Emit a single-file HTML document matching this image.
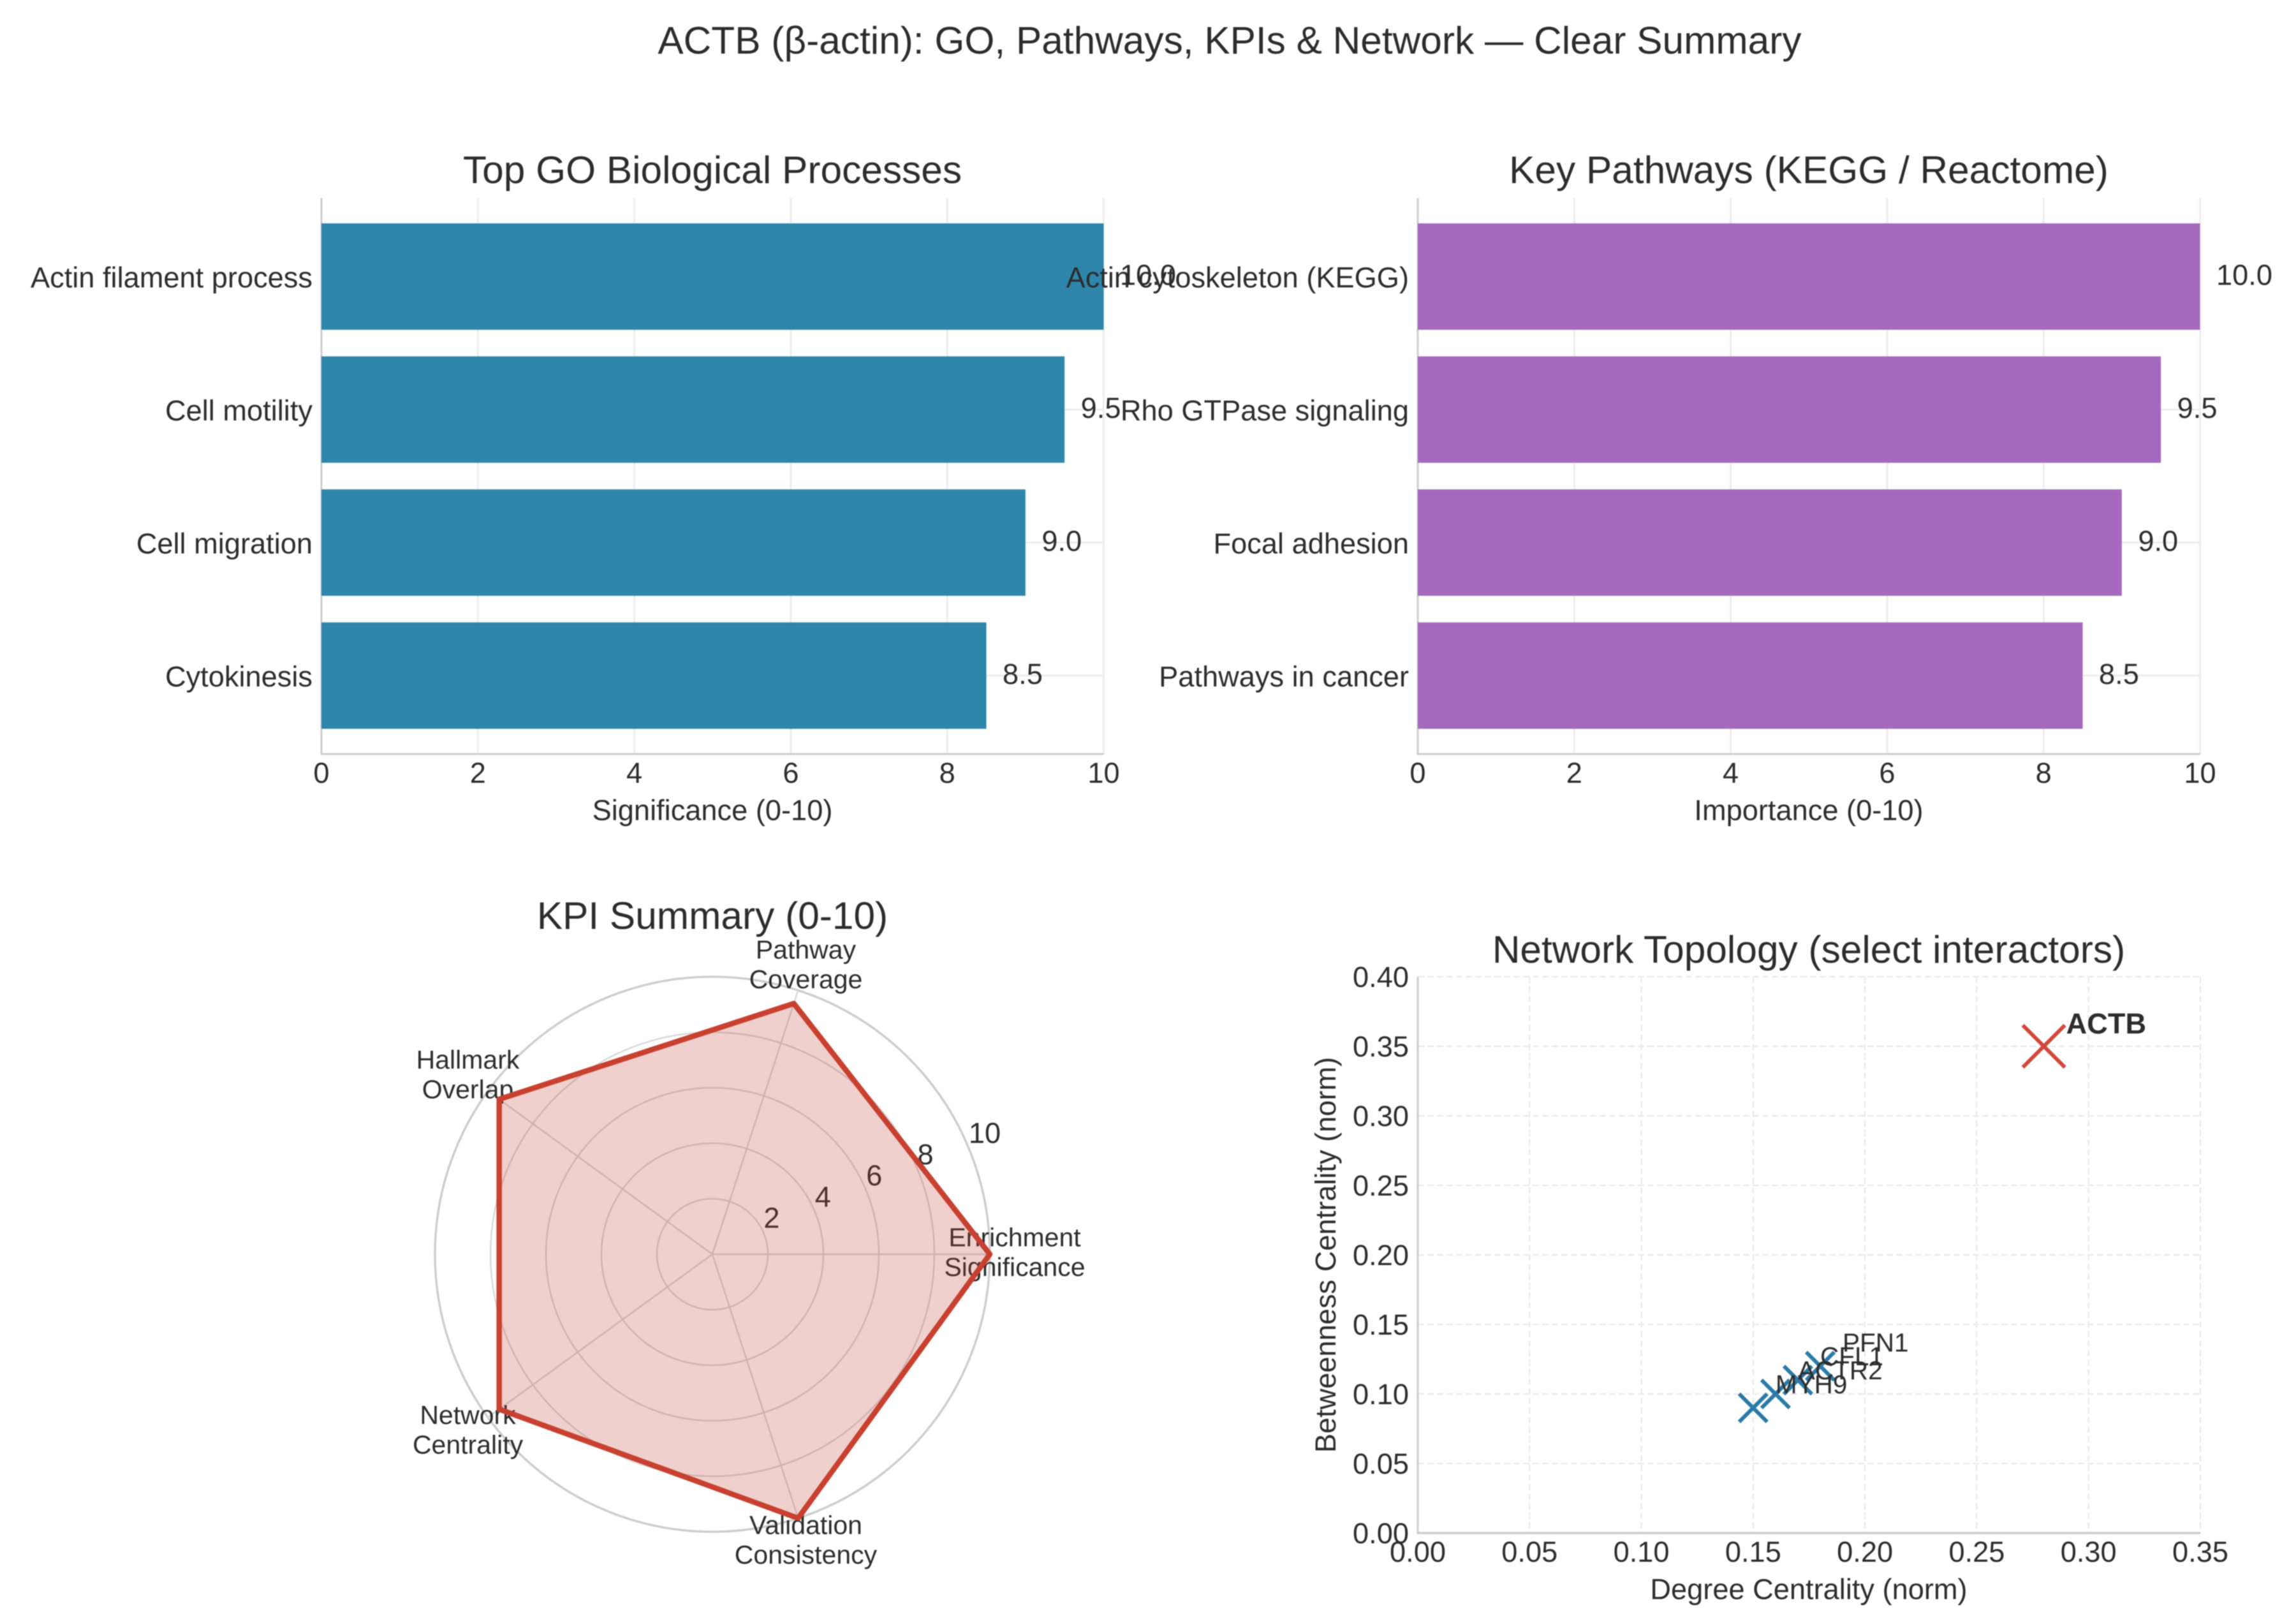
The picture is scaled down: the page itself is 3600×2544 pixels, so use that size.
<!DOCTYPE html>
<html lang="en">
<head>
<meta charset="utf-8">
<title>ACTB (β-actin): GO, Pathways, KPIs &amp; Network — Clear Summary</title>
<style>
  html, body { margin: 0; padding: 0; background: #ffffff; }
  body { width: 3600px; height: 2544px; overflow: hidden; }
  svg { display: block; filter: blur(0.9px); }
  text { font-family: "Liberation Sans", Arial, sans-serif; fill: #2c2c2c; }
</style>
</head>
<body>
<svg id="chart" xmlns="http://www.w3.org/2000/svg" width="3600" height="2544" viewBox="0 0 3600 2544">
  <rect x="0" y="0" width="3600" height="2544" fill="#ffffff"/>
  <text x="1928" y="84" font-size="60.4" text-anchor="middle">ACTB (β-actin): GO, Pathways, KPIs &amp; Network — Clear Summary</text>

  <g id="go-panel"></g>
  <g id="pathway-panel"></g>
  <g id="kpi-panel"></g>
  <g id="network-panel"></g>

  <text x="1117" y="287" font-size="60.4" text-anchor="middle">Top GO Biological Processes</text>
  <text x="1117" y="1285.5" font-size="45.2" text-anchor="middle">Significance (0-10)</text>
  <text x="2836" y="287" font-size="60.4" text-anchor="middle">Key Pathways (KEGG / Reactome)</text>
  <text x="2836" y="1285.5" font-size="45.2" text-anchor="middle">Importance (0-10)</text>
  <text x="1117" y="1456" font-size="60.4" text-anchor="middle">KPI Summary (0-10)</text>
  <text x="2836" y="1509" font-size="60.4" text-anchor="middle">Network Topology (select interactors)</text>
  <text x="2836" y="2506.5" font-size="45.2" text-anchor="middle">Degree Centrality (norm)</text>
  <text x="2094" y="1967" font-size="45.2" text-anchor="middle" transform="rotate(-90 2094 1967)">Betweenness Centrality (norm)</text>
</svg>

<script>
// ---- chart data ----
const goCategories = ['Actin filament process', 'Cell motility', 'Cell migration', 'Cytokinesis'];
const goValues = [10.0, 9.5, 9.0, 8.5];
const pathwayCategories = ['Actin cytoskeleton (KEGG)', 'Rho GTPase signaling', 'Focal adhesion', 'Pathways in cancer'];
const pathwayValues = [10.0, 9.5, 9.0, 8.5];
const barTickLabels = [0, 2, 4, 6, 8, 10];

const kpiLabels = [['Enrichment', 'Significance'], ['Pathway', 'Coverage'], ['Hallmark', 'Overlap'], ['Network', 'Centrality'], ['Validation', 'Consistency']];
const kpiValues = [10, 9.5, 9.5, 9.5, 10];
const kpiRadialTicks = [2, 4, 6, 8, 10];

const networkNames = ['PFN1', 'CFL1', 'ACTR2', 'MYH9'];
const networkDegree = [0.18, 0.17, 0.16, 0.15];
const networkBetweenness = [0.12, 0.11, 0.10, 0.09];
const hubNames = ['ACTB'];
const hubDegree = [0.28];
const hubBetweenness = [0.35];
const networkXTicks = [0, 0.05, 0.10, 0.15, 0.20, 0.25, 0.30, 0.35];
const networkYTicks = [0, 0.05, 0.10, 0.15, 0.20, 0.25, 0.30, 0.35, 0.40];

// ---- helpers ----
const NS = 'http://www.w3.org/2000/svg';
function make(parent, tag, attrs, content) {
  const el = document.createElementNS(NS, tag);
  for (const k in attrs) el.setAttribute(k, attrs[k]);
  if (content !== undefined) el.textContent = content;
  parent.appendChild(el);
  return el;
}
const GRID = '#ededed';
const SPINE = '#cccccc';

// ---- horizontal bar panels ----
function drawBarPanel(panelId, prefix, left, color, categories, values) {
  const panel = document.getElementById(panelId);
  const width = 1226.5, top = 310.5, bottom = 1182;
  const xMax = 10;
  const x = v => left + v / xMax * width;
  const band = (bottom - top) / (categories.length + 0.18);
  const y = i => top + (i + 0.59) * band;

  barTickLabels.forEach(t => {
    const line = make(panel, 'line', { x1: x(t), x2: x(t), y1: top, y2: bottom, stroke: GRID, 'stroke-width': 3 });
    
    
  });
  categories.forEach((c, i) => {
    const line = make(panel, 'line', { x1: left, x2: x(xMax), y1: y(i), y2: y(i), stroke: GRID, 'stroke-width': 3 });
    
    
  });
  const spineL = make(panel, 'line', { x1: left, x2: left, y1: top, y2: bottom, stroke: SPINE, 'stroke-width': 3 });
  
  
  const spineB = make(panel, 'line', { x1: left - 1.5, x2: x(xMax), y1: bottom, y2: bottom, stroke: SPINE, 'stroke-width': 3 });
  
  

  categories.forEach((c, i) => {
    const barH = band * 0.8;
    const bar = make(panel, 'rect', { x: x(0), y: y(i) - barH / 2, width: x(values[i]) - x(0), height: barH, fill: color });
    
    
    const value = make(panel, 'text', { x: x(values[i]) + 25.5, y: y(i) + 13, 'font-size': 45.2 }, values[i].toFixed(1));
    
    
    const label = make(panel, 'text', { x: left - 14, y: y(i) + 17, 'font-size': 45.2, 'text-anchor': 'end' }, c);
    
    
  });
  barTickLabels.forEach(t => {
    const tick = make(panel, 'text', { x: x(t), y: bottom + 45, 'font-size': 45.2, 'text-anchor': 'middle' }, String(t));
    
    
  });
}
drawBarPanel('go-panel', 'go', 504, '#2E86AB', goCategories, goValues);
drawBarPanel('pathway-panel', 'pathway', 2223, '#A569BD', pathwayCategories, pathwayValues);

// ---- radar panel ----
(function () {
  const panel = document.getElementById('kpi-panel');
  const cx = 1117, cy = 1966, radius = 435, rMax = 10;
  const n = kpiValues.length;
  const rad = v => v / rMax * radius;
  const angle = i => i / n * 2 * Math.PI;
  const px = (a, r) => cx + r * Math.cos(a);
  const py = (a, r) => cy - r * Math.sin(a);

  kpiRadialTicks.forEach(t => {
    const ring = make(panel, 'circle', { cx: cx, cy: cy, r: rad(t), fill: 'none', stroke: t === rMax ? '#cdcdcd' : '#d8d8d8', 'stroke-width': t === rMax ? 3.5 : 2.5 });
    
    
  });
  kpiValues.forEach((v, i) => {
    const spoke = make(panel, 'line', { x1: cx, y1: cy, x2: px(angle(i), radius), y2: py(angle(i), radius), stroke: '#d8d8d8', 'stroke-width': 2.5 });
    
    
  });
  const tickAngle = 22.5 * Math.PI / 180;
  kpiRadialTicks.forEach(t => {
    const tick = make(panel, 'text', { x: px(tickAngle, rad(t)), y: py(tickAngle, rad(t)) - 8, 'font-size': 45.2 }, String(t));
    
    
  });
  kpiLabels.forEach((lines, i) => {
    const lx = px(angle(i), 474), ly = py(angle(i), 474);
    lines.forEach((line, j) => {
      const label = make(panel, 'text', { x: lx, y: ly - 12.5 + j * 46.5, 'font-size': 41, 'text-anchor': 'middle' }, line);
      
      
    });
  });
  const points = kpiValues.map((v, i) => px(angle(i), rad(v)) + ',' + py(angle(i), rad(v))).join(' ');
  const area = make(panel, 'polygon', { points: points, fill: '#C0392B', 'fill-opacity': 0.24, stroke: 'none' });
  
  
  const outline = make(panel, 'polygon', { points: points, fill: 'none', stroke: '#C8402F', 'stroke-width': 8.5, 'stroke-linejoin': 'round' });
  
  
})();

// ---- network scatter panel ----
(function () {
  const panel = document.getElementById('network-panel');
  const left = 2223, right = 3450, top = 1531, bottom = 2403;
  const xMax = 0.35, yMax = 0.40;
  const x = v => left + v / xMax * (right - left);
  const y = v => bottom - v / yMax * (bottom - top);

  networkXTicks.forEach(t => {
    const line = make(panel, 'line', { x1: x(t), x2: x(t), y1: top, y2: bottom, stroke: '#ebebeb', 'stroke-width': 2.5, 'stroke-dasharray': '10 5' });
    
    
  });
  networkYTicks.forEach(t => {
    const line = make(panel, 'line', { x1: left, x2: right, y1: y(t), y2: y(t), stroke: '#ebebeb', 'stroke-width': 2.5, 'stroke-dasharray': '10 5' });
    
    
  });
  const spineL = make(panel, 'line', { x1: left, x2: left, y1: top, y2: bottom, stroke: SPINE, 'stroke-width': 3 });
  
  
  const spineB = make(panel, 'line', { x1: left - 1.5, x2: right, y1: bottom, y2: bottom, stroke: SPINE, 'stroke-width': 3.5 });
  
  

  networkXTicks.forEach(t => {
    const tick = make(panel, 'text', { x: x(t), y: bottom + 45, 'font-size': 45.2, 'text-anchor': 'middle' }, t.toFixed(2));
    
    
  });
  networkYTicks.forEach(t => {
    const tick = make(panel, 'text', { x: left - 14, y: y(t) + 16, 'font-size': 45.2, 'text-anchor': 'end' }, t.toFixed(2));
    
    
  });

  function cross(cxv, cyv, half, color, sw) {
    const d = 'M' + (cxv - half) + ' ' + (cyv - half) + 'L' + (cxv + half) + ' ' + (cyv + half) +
              'M' + (cxv - half) + ' ' + (cyv + half) + 'L' + (cxv + half) + ' ' + (cyv - half);
    return make(panel, 'path', { d: d, fill: 'none', stroke: color, 'stroke-width': sw });
  }
  networkNames.forEach((name, i) => {
    const mark = cross(x(networkDegree[i]), y(networkBetweenness[i]), 22, '#2A7BA8', 6);
    
    
  });
  networkNames.forEach((name, i) => {
    const label = make(panel, 'text', { x: x(networkDegree[i]) + 35, y: y(networkBetweenness[i]) - 23, 'font-size': 40.5 }, name);
    
    
  });
  hubNames.forEach((name, i) => {
    const mark = cross(x(hubDegree[i]), y(hubBetweenness[i]), 33, '#CF4A3C', 6);
    
    
    const label = make(panel, 'text', { x: x(hubDegree[i]) + 35, y: y(hubBetweenness[i]) - 20, 'font-size': 45.2, 'font-weight': 'bold' }, name);
    
    
  });
})();
</script>
</body>
</html>
